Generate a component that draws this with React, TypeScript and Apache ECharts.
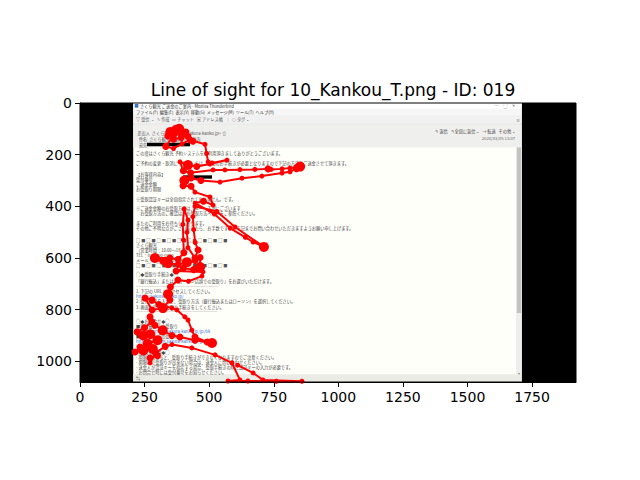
import { useEffect, useRef } from 'react';
import * as echarts from 'echarts';

// 视线轨迹图：背景为邮件截图，红线为注视点序列
const titleText = 'Line of sight for 10_Kankou_T.png - ID: 019';
const imageWidth = 1920;
const imageHeight = 1080;
const xTicks = [0, 250, 500, 750, 1000, 1250, 1500, 1750];
const yTicks = [0, 200, 400, 600, 800, 1000];

// 注视点坐标（图像像素）
const gazeX = [
  437, 418, 396, 372, 350, 340, 362, 392, 410, 384, 366, 332, 362, 395, 426, 484, 490, 496, 511, 569,
  503, 452, 418, 387, 400, 428, 515, 561, 619, 677, 728, 740, 782, 813, 840, 852, 838, 813, 782, 704,
  627, 542, 468, 430, 404, 399, 430, 445, 503, 515, 478, 446, 520, 581, 640, 670, 712, 600, 530, 445,
  437, 440, 446, 457, 445, 418, 414, 418, 403, 398, 400, 402, 380, 348, 290, 320, 341, 380, 414, 445,
  465, 465, 440, 400, 372, 476, 472, 420, 379, 350, 341, 348, 321, 279, 252, 279, 305, 356, 375, 406,
  418, 433, 445, 492, 511, 445, 387, 356, 320, 290, 271, 278, 250, 221, 245, 272, 300, 262, 232, 213,
  245, 282, 300, 271, 271, 292, 330, 356, 433, 523, 588, 619, 573, 650, 760, 859, 708, 670, 610,
];
const gazeY = [
  148, 130, 116, 104, 112, 128, 140, 134, 112, 100, 120, 168, 176, 158, 143, 160, 195, 228, 232, 221,
  236, 246, 240, 228, 262, 270, 259, 259, 258, 257, 255, 257, 255, 252, 249, 246, 254, 266, 271, 283,
  291, 306, 300, 290, 300, 320, 322, 345, 364, 395, 380, 388, 430, 484, 520, 538, 557, 480, 420, 400,
  440, 490, 540, 569, 600, 560, 500, 453, 410, 470, 530, 580, 605, 600, 600, 612, 620, 625, 616, 610,
  598, 635, 645, 640, 650, 654, 670, 690, 685, 712, 740, 762, 794, 801, 755, 763, 780, 794, 801, 828,
  840, 879, 906, 925, 929, 918, 906, 900, 880, 860, 828, 847, 870, 886, 900, 895, 918, 932, 945, 964,
  958, 952, 978, 987, 1006, 968, 942, 935, 948, 975, 1006, 1072, 1076, 1076, 1077, 1077, 1072, 1045, 1015,
];
// 注视时长等级（1 短，3 长）
const dwell = [
  2, 2, 3, 3, 3, 2, 2, 2, 2, 3, 2, 2, 1, 1, 2, 1, 1, 1, 1, 1,
  1, 2, 3, 1, 2, 2, 1, 1, 1, 1, 2, 1, 1, 1, 2, 3, 2, 1, 1, 1,
  1, 1, 2, 2, 3, 2, 2, 1, 1, 1, 2, 1, 1, 1, 1, 1, 3, 1, 1, 1,
  1, 1, 1, 2, 2, 1, 1, 1, 1, 1, 1, 2, 2, 2, 3, 2, 3, 2, 3, 2,
  2, 3, 2, 2, 2, 1, 1, 1, 2, 2, 3, 2, 3, 2, 2, 2, 2, 1, 1, 1,
  1, 1, 2, 2, 3, 2, 2, 2, 3, 2, 2, 2, 2, 2, 3, 3, 3, 3, 2, 2,
  3, 3, 2, 2, 1, 2, 2, 1, 1, 1, 1, 1, 1, 1, 1, 1, 1, 1, 1,
];
const dwellSize = [0, 5, 7, 10];

// 背景截图的色块 [x0, y0, x1, y1, 颜色]
const screenBlocks: [number, number, number, number, string][] = [
  [0, 0, 1920, 1080, '#000000'],
  [206, 0, 1710, 1080, '#fffffa'],
  [206, 0, 1710, 22, '#ffffff'],
  [206, 22, 1710, 45, '#f6f6f6'],
  [206, 45, 1710, 80, '#f1f1f1'],
  [206, 80, 1710, 83, '#d6d6d6'],
  [206, 84, 1688, 172, '#efefed'],
  [1688, 84, 1710, 1050, '#eeeeee'],
  [1691, 172, 1707, 813, '#c2c2c2'],
  [206, 1050, 1710, 1080, '#ebebe6'],
  [212, 4, 226, 18, '#3a6fc4'],
  [259, 154, 426, 167, '#000000'],
  [399, 280, 511, 293, '#000000'],
];

// 截图中的文字 [x, y, 文本, 颜色, 对齐]
const screenTexts: [number, number, string, string, string][] = [
  [232, 11, 'さくら観光 ご送金のご案内 - Mozilla Thunderbird', '#333', 'left'],
  [1684, 9, '—     ▢     ✕', '#555', 'right'],
  [217, 33, 'ファイル(F)  編集(E)  表示(V)  移動(G)  メッセージ(M)  ツール(T)  ヘルプ(H)', '#333', 'left'],
  [217, 62, '▽ 受信  ⌄   ✎ 作成   ▭ チャット   ▣ アドレス帳   │  ◇ タグ ⌄', '#555', 'left'],
  [1704, 66, '≡', '#444', 'right'],
  [222, 116, '差出人  さくら観光 <info@sakura-kanko.jp> ☆', '#555', 'left'],
  [228, 139, '件名  さくら観光 ご送金のご案内', '#555', 'left'],
  [228, 161, '宛先', '#555', 'left'],
  [1684, 110, '↰ 返信   ↰ 全員に返信 ⌄   → 転送   その他 ⌄', '#444', 'right'],
  [1684, 136, '2020/03/05 13:07', '#666', 'right'],
  [217, 194, 'この度はさくら観光 予約システムをご利用頂きましてありがとうございます。', '#444', 'left'],
  [217, 232, 'ご予約の変更・取消につきましては、追加のお手続きが必要となりますので下記の方法でご送金させて頂きます。', '#444', 'left'],
  [217, 275, '【お客様内容】', '#444', 'left'],
  [217, 294, '受付番号', '#444', 'left'],
  [217, 314, 'ご送金金額', '#444', 'left'],
  [217, 333, 'お受取り期限', '#444', 'left'],
  [217, 372, '※受取認証キーは全員指定されておりません。です。', '#444', 'left'],
  [217, 407, '※ご送金金額のお受取方法は、メール下部にございます', '#444', 'left'],
  [217, 426, '　お受取方法のご確認は、お受取方法ページをご参照ください。', '#444', 'left'],
  [217, 465, 'またのご利用をお待ちしております。', '#444', 'left'],
  [217, 484, 'その他ご不明な点がございましたら、お手数ですが、下記までお問い合わせいただきますようお願い申し上げます。', '#444', 'left'],
  [217, 530, '□ ■ □ ■ □ ■ □ ■ □ ■ □ ■ □ ■ □ ■ □ ■', '#555', 'left'],
  [217, 550, 'さくら観光', '#444', 'left'],
  [217, 569, '（営業時間：10:00～18:00）', '#444', 'left'],
  [217, 588, 'TEL：03-0000-0000', '#444', 'left'],
  [217, 608, 'メール：info@sakura-kanko.jp', '#444', 'left'],
  [217, 627, '□ ■ □ ■ □ ■ □ ■ □ ■ □ ■ □ ■ □ ■ □ ■', '#555', 'left'],
  [217, 662, '○◆受取り手続き◆○', '#444', 'left'],
  [217, 689, '「銀行振込」または「ローソン店頭での受取り」をお選びいただけます。', '#444', 'left'],
  [217, 708, '--------------------------------------------------------', '#666', 'left'],
  [217, 728, '1. 下記の URL にアクセスしてください。', '#444', 'left'],
  [217, 747, 'https://sakura-kanko.jp/', '#3b6fd6', 'left'],
  [217, 767, '2. 受付番号を入力し、受取り方法（銀行振込またはローソン）を選択してください。', '#444', 'left'],
  [217, 788, '3. 画面に従い、受取り手続きをしてください。', '#444', 'left'],
  [217, 807, '--------------------------------------------------------', '#666', 'left'],
  [217, 844, '○◆お問合せ◆○', '#444', 'left'],
  [217, 863, '■銀行振込での受取り', '#444', 'left'],
  [217, 883, 'https://content.sakura-kanko.jp/jp/bk', '#3b6fd6', 'left'],
  [217, 902, '■ローソンでの受取り', '#444', 'left'],
  [217, 921, 'https://content.sakura-kanko.jp/jp/ls', '#3b6fd6', 'left'],
  [217, 964, '○◆注意事項◆○', '#444', 'left'],
  [217, 983, '- 期限を過ぎると、受取り手続きができなくなりますのでご注意ください。', '#444', 'left'],
  [217, 1002, '- 期限内で受取りが出来ない場合は、送金人に問い合わせください。', '#444', 'left'],
  [217, 1022, '- 送金人が認証キーを指定する場合、受取手続きの際に認証キーの入力が必要です。', '#444', 'left'],
  [217, 1041, '- お問合せ時には受付番号をお知らせください。', '#444', 'left'],
  [217, 1065, '⇆', '#444', 'left'],
  [1702, 1045, '▾', '#888', 'right'],
];

function renderScreen(_params: any, api: any) {
  const children: any[] = [];
  screenBlocks.forEach(([x0, y0, x1, y1, fill]) => {
    const a = api.coord([x0, y0]);
    const b = api.coord([x1, y1]);
    children.push({
      type: 'rect',
      shape: {
        x: Math.min(a[0], b[0]),
        y: Math.min(a[1], b[1]),
        width: Math.abs(b[0] - a[0]),
        height: Math.abs(b[1] - a[1])
      },
      style: { fill }
    });
  });
  screenTexts.forEach(([x, y, text, fill, align]) => {
    const p = api.coord([x, y]);
    children.push({
      type: 'text',
      x: p[0],
      y: p[1],
      style: {
        text,
        fill,
        font: '4.2px "Noto Sans CJK JP"',
        align,
        verticalAlign: 'middle'
      }
    });
  });
  return { type: 'group', children };
}

export default function App() {
  const chartRef = useRef<HTMLDivElement>(null);

  useEffect(() => {
    if (!chartRef.current) return;
    const chart = echarts.init(chartRef.current, null, { renderer: 'svg' });

    const axisFont = {
      fontFamily: 'DejaVu Sans',
      fontSize: 14,
      color: '#000',
      formatter: (v: number) => String(v)
    };

    chart.setOption({
      animation: false,
      backgroundColor: '#ffffff',
      title: {
        text: titleText,
        left: 328,
        top: 76,
        textAlign: 'center',
        textStyle: {
          fontFamily: 'DejaVu Sans',
          fontSize: 17,
          fontWeight: 'normal',
          color: '#000'
        }
      },
      grid: {
        left: 80,
        top: 103,
        width: 496,
        height: 279,
        show: true,
        borderColor: '#000',
        borderWidth: 1,
        backgroundColor: 'transparent',
        z: 10
      },
      xAxis: {
        type: 'value',
        min: 0,
        max: imageWidth,
        axisLine: { show: true, onZero: false, lineStyle: { color: '#000', width: 1 } },
        axisTick: { show: true, length: 5, customValues: xTicks, lineStyle: { color: '#000', width: 1 } },
        axisLabel: { ...axisFont, margin: 8, customValues: xTicks },
        splitLine: { show: false }
      },
      yAxis: {
        type: 'value',
        min: 0,
        max: imageHeight,
        inverse: true,
        axisLine: { show: true, onZero: false, lineStyle: { color: '#000', width: 1 } },
        axisTick: { show: true, length: 5, customValues: yTicks, lineStyle: { color: '#000', width: 1 } },
        axisLabel: { ...axisFont, margin: 8, customValues: yTicks },
        splitLine: { show: false }
      },
      series: [
        {
          type: 'custom',
          renderItem: renderScreen,
          data: [[0, 0]],
          silent: true,
          clip: true,
          z: 1
        },
        {
          type: 'line',
          data: gazeX.map((x, i) => [x, gazeY[i]]),
          symbol: 'circle',
          symbolSize: (_v: any, p: any) => dwellSize[dwell[p.dataIndex]],
          lineStyle: { color: '#ff0000', width: 2 },
          itemStyle: { color: '#ff0000' },
          clip: true,
          silent: true,
          z: 3
        }
      ]
    });

    return () => {
      chart.dispose();
    };
  }, []);

  return (
    <div
      ref={chartRef}
      style={{ position: 'fixed', left: 0, top: 0, width: '640px', height: '480px', background: '#fff' }}
    />
  );
}
